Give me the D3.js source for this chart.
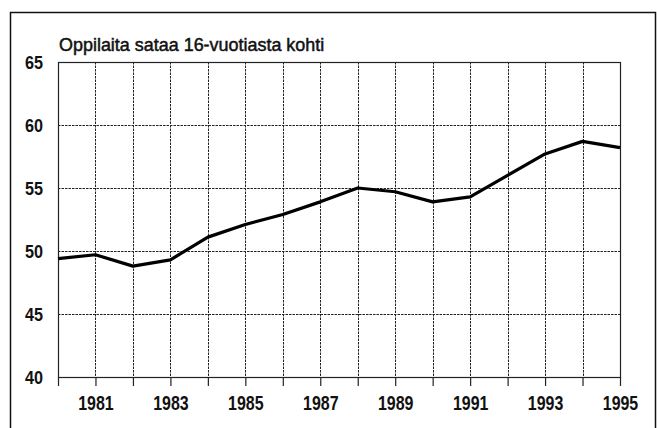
<!DOCTYPE html>
<html>
<head>
<meta charset="utf-8">
<script src="https://cdn.jsdelivr.net/npm/d3@7"></script>
<style>
  body { margin: 0; background: #fff; }
  svg { display: block; }
  text { font-family: "Liberation Sans", Arial, sans-serif; fill: #111; }
</style>
</head>
<body>
<script>
// data
var years = [1980, 1981, 1982, 1983, 1984, 1985, 1986, 1987, 1988, 1989, 1990, 1991, 1992, 1993, 1994, 1995];
var pupils = [49.4, 49.7, 48.8, 49.3, 51.1, 52.1, 52.9, 53.9, 55.0, 54.7, 53.9, 54.3, 56.0, 57.7, 58.7, 58.2];
var yTicks = [40, 45, 50, 55, 60, 65];
var xLabels = [1981, 1983, 1985, 1987, 1989, 1991, 1993, 1995];
var title = "Oppilaita sataa 16-vuotiasta kohti";

var W = 657, H = 428;
var margin = {left: 58, right: 37, top: 62, bottom: 51},
    width = W - margin.left - margin.right,
    height = H - margin.top - margin.bottom;

// horizontal squeeze so the type reads like a condensed face
var squeezeX = 0.76, squeezeY = 0.9, squeezeTitle = 0.97;

var svg = d3.select("body").append("svg")
    .attr("width", W)
    .attr("height", H);

// outer frame (bottom edge runs off the page)
svg.append("rect")
    .attr("x", 10.5).attr("y", 12.5)
    .attr("width", 645).attr("height", 430)
    .attr("fill", "none")
    .attr("stroke", "#111")
    .attr("stroke-width", 1.5);

var g = svg.append("g")
    .attr("transform", "translate(" + margin.left + "," + margin.top + ")");

var x = d3.scaleLinear()
    .domain([1980, 1995])
    .range([0, width]);

var y = d3.scaleLinear()
    .domain([40, 65])
    .range([height, 0]);

// grid
g.selectAll(".vgrid")
    .data(years.slice(1, -1))
    .enter().append("line")
    .attr("x1", function(d) { return Math.round(x(d)) + 0.5; })
    .attr("x2", function(d) { return Math.round(x(d)) + 0.5; })
    .attr("y1", 0).attr("y2", height)
    .attr("stroke", "#222")
    .attr("stroke-width", 1)
    .attr("stroke-dasharray", "2.5,1");

g.selectAll(".hgrid")
    .data(yTicks.slice(1, -1))
    .enter().append("line")
    .attr("y1", function(d) { return Math.round(y(d)) + 0.5; })
    .attr("y2", function(d) { return Math.round(y(d)) + 0.5; })
    .attr("x1", 0).attr("x2", width)
    .attr("stroke", "#222")
    .attr("stroke-width", 1)
    .attr("stroke-dasharray", "2.5,1");

// plot border
g.append("rect")
    .attr("x", 0.5).attr("y", 0.5)
    .attr("width", width).attr("height", height)
    .attr("fill", "none")
    .attr("stroke", "#222")
    .attr("stroke-width", 1.2);

// x axis: tick per year, label every other year
var xAxis = d3.axisBottom(x)
    .tickValues(years)
    .tickSize(9)
    .tickFormat(function(d) { return xLabels.indexOf(d) >= 0 ? d : ""; });

var xg = g.append("g")
    .attr("transform", "translate(0," + height + ")")
    .call(xAxis);
xg.select(".domain").remove();
xg.selectAll(".tick line").attr("stroke", "#222").attr("stroke-width", 1.2);
xg.selectAll(".tick text")
    .attr("y", 18)
    .attr("dy", "0.71em")
    .attr("transform", "scale(" + squeezeX + ",1)")
    .style("font-size", "21px")
    .style("font-weight", "bold")
    .attr("fill", "#111");

// y axis: labels only
var yAxis = d3.axisLeft(y)
    .tickValues(yTicks)
    .tickSize(0);

var yg = g.append("g").call(yAxis);
yg.select(".domain").remove();
yg.selectAll(".tick text")
    .attr("x", -15 / squeezeY)
    .attr("dy", "0.36em")
    .attr("transform", "scale(" + squeezeY + ",1)")
    .style("font-size", "18px")
    .style("font-weight", "bold")
    .attr("fill", "#111");

// line
var line = d3.line()
    .x(function(d, i) { return x(years[i]); })
    .y(function(d) { return y(d); });

g.append("path")
    .datum(pupils)
    .attr("d", line)
    .attr("fill", "none")
    .attr("stroke", "#000")
    .attr("stroke-width", 3.2)
    .attr("stroke-linejoin", "round");

// title
svg.append("g")
    .attr("transform", "translate(59,51) scale(" + squeezeTitle + ",1)")
    .append("text")
    .style("font-size", "18.5px")
    .attr("stroke", "#111")
    .attr("stroke-width", 0.5)
    .text(title);
</script>
</body>
</html>
